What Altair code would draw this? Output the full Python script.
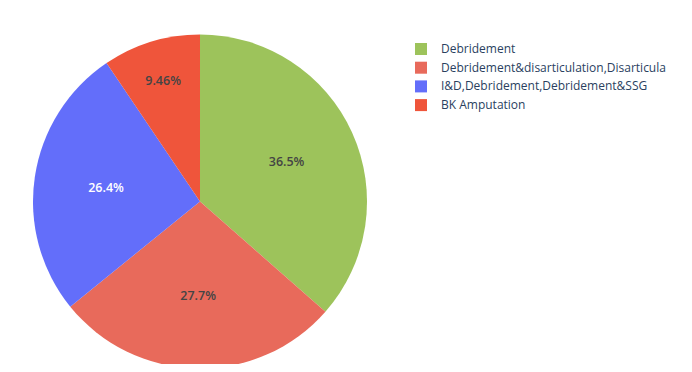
import altair as alt
import pandas as pd

labels = [
    "Debridement",
    "Debridement&disarticulation,Disarticula",
    "I&D,Debridement,Debridement&SSG",
    "BK Amputation",
]
percent = [36.5, 27.7, 26.4, 9.46]
percent_text = ["36.5%", "27.7%", "26.4%", "9.46%"]
colors = ["#9DC35B", "#E86A5B", "#636EFA", "#EF553B"]

df = pd.DataFrame({
    "label": labels,
    "pct": percent,
    "txt": percent_text,
    "order": list(range(len(labels))),
})

base = alt.Chart(df).encode(
    x=alt.value(192),
    y=alt.value(193.5),
)

pie = base.mark_arc(outerRadius=167, strokeWidth=0).encode(
    theta=alt.Theta("pct:Q", stack=True),
    order=alt.Order("order:Q"),
    color=alt.Color(
        "label:N",
        sort=labels,
        scale=alt.Scale(domain=labels, range=colors),
        legend=alt.Legend(
            title=None,
            orient="none",
            legendX=407,
            legendY=35,
            padding=0,
            symbolType="square",
            symbolSize=144,
            symbolStrokeWidth=0,
            labelFont="Open Sans",
            labelFontSize=12,
            labelColor="#2a3f5f",
            labelOffset=14,
            rowPadding=6.7,
            labelLimit=500,
        ),
    ),
)

text = (
    base.transform_window(
        cum="sum(pct)", sort=[alt.SortField("order")], frame=[None, 0]
    )
    .transform_calculate(
        mid="datum.cum - datum.pct / 2",
        r="datum.pct < 15 ? 126 : 95",
    )
    .mark_text(font="Open Sans", fontSize=12.5, fontWeight=600)
    .encode(
        theta=alt.Theta("mid:Q", stack=None),
        radius=alt.Radius("r:Q", scale=None),
        text="txt:N",
        color=alt.condition(
            alt.datum.label == "I&D,Debridement,Debridement&SSG",
            alt.value("#ffffff"),
            alt.value("#444444"),
        ),
    )
)

chart = (
    alt.layer(pie, text)
    .properties(width=676, height=356, padding=0, autosize=alt.AutoSizeParams(type="none"))
    .configure_view(stroke=None)
)

chart.save("out.html", embed_options={"renderer": "svg", "actions": False})
